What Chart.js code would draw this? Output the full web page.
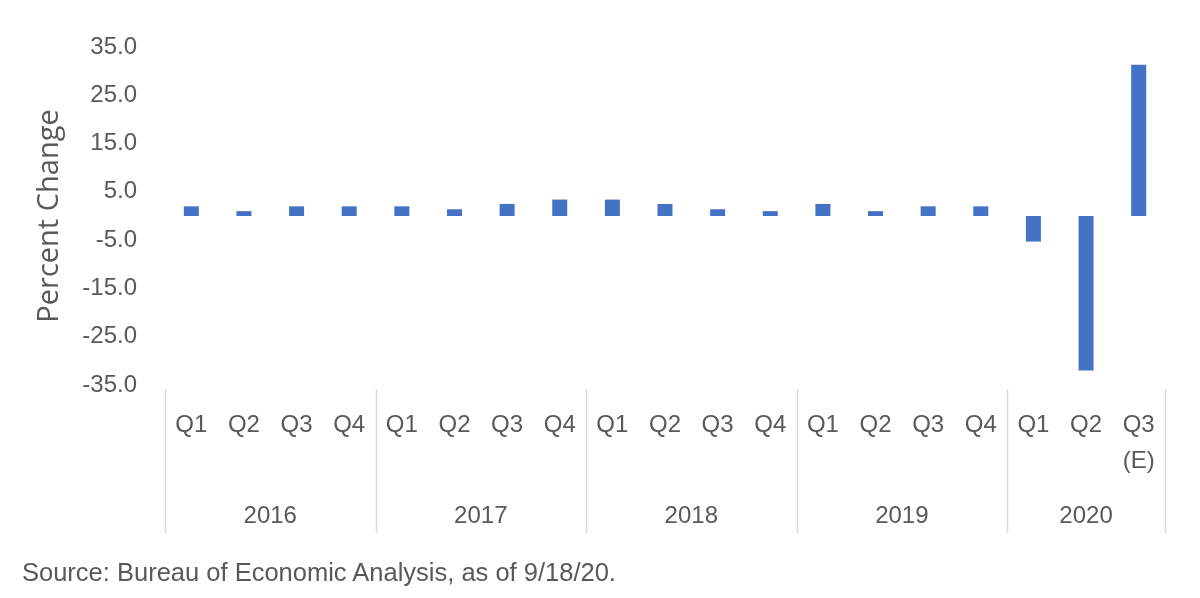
<!DOCTYPE html>
<html>
<head>
<meta charset="utf-8">
<script src="https://cdn.jsdelivr.net/npm/chart.js@4/dist/chart.umd.min.js"></script>
<style>
  html, body { margin: 0; padding: 0; background: #fff; }
  #wrap { position: relative; width: 1200px; height: 598px; }
  #source {
    position: absolute; left: 22px; top: 560px;
    font-family: "Liberation Sans", Arial, sans-serif;
    font-size: 25.5px; line-height: 1; color: #595959;
    white-space: nowrap;
  }
</style>
</head>
<body>
<div id="wrap">
  <canvas id="myChart" width="1200" height="598"></canvas>
  <div id="source">Source: Bureau of Economic Analysis, as of 9/18/20.</div>
</div>
<script>
var quarters = ['Q1', 'Q2', 'Q3', 'Q4', 'Q1', 'Q2', 'Q3', 'Q4', 'Q1', 'Q2', 'Q3', 'Q4',
                'Q1', 'Q2', 'Q3', 'Q4', 'Q1', 'Q2', ['Q3', '(E)']];
var gdpChange = [2.0, 1.0, 2.0, 2.0, 2.0, 1.4, 2.5, 3.4, 3.4, 2.5, 1.4, 1.0,
                 2.5, 1.0, 2.0, 2.0, -5.3, -32.0, 31.3];
var years = ['2016', '2017', '2018', '2019', '2020'];
var quartersPerYear = [4, 4, 4, 4, 3];
var yTicks = [-35, -25, -15, -5, 5, 15, 25, 35];

// year group centres and boundaries, in bar index units
var yearCentres = [];
var yearBounds = [-0.5];
var start = 0;
quartersPerYear.forEach(function (n) {
    yearCentres.push(start + (n - 1) / 2);
    start += n;
    yearBounds.push(start - 0.5);
});

var font = "'Liberation Sans', Arial, sans-serif";
var grey = '#595959';
var lineGrey = '#d9d9d9';

var dividers = {
    id: 'dividers',
    afterDraw: function (chart) {
        var ctx = chart.ctx;
        var x = chart.scales.x;
        var yr = chart.scales.year;
        ctx.save();
        ctx.strokeStyle = lineGrey;
        ctx.lineWidth = 1.5;
        yearBounds.forEach(function (b) {
            var px = Math.round(x.getPixelForValue(b)) + 0.5;
            ctx.beginPath();
            ctx.moveTo(px, chart.chartArea.bottom + 4);
            ctx.lineTo(px, yr.bottom);
            ctx.stroke();
        });
        ctx.restore();
    }
};

var ctx = document.getElementById('myChart').getContext('2d');

var config = {
    type: 'bar',
    data: {
        labels: quarters,
        datasets: [{
            data: gdpChange,
            backgroundColor: '#4472C4',
            barPercentage: 0.57,
            categoryPercentage: 0.5
        }]
    },
    options: {
        responsive: false,
        animation: false,
        layout: { padding: { top: 47, right: 35, bottom: 65, left: 0 } },
        plugins: { legend: { display: false }, tooltip: { enabled: false } },
        scales: {
            y: {
                min: -35,
                max: 35,
                afterBuildTicks: function (scale) {
                    scale.ticks = yTicks.map(function (v) { return { value: v }; });
                },
                afterFit: function (scale) { scale.width = 165; },
                border: { display: false },
                grid: {
                    drawTicks: false,
                    color: function (c) { return c.tick && c.tick.value === 0 ? lineGrey : 'rgba(0,0,0,0)'; },
                    lineWidth: 2
                },
                ticks: {
                    color: grey,
                    font: { family: font, size: 24 },
                    padding: 28,
                    callback: function (v) { return v.toFixed(1); }
                },
                title: {
                    display: true,
                    text: 'Percent Change',
                    color: grey,
                    font: { family: "'Open Sans', sans-serif", size: 29 },
                    padding: { top: 32, bottom: 0 }
                }
            },
            x: {
                grid: { display: false },
                border: { display: false },
                afterFit: function (scale) { scale.height = 100; },
                ticks: {
                    color: grey,
                    font: { family: font, size: 24, lineHeight: 1.5 },
                    padding: 14,
                    maxRotation: 0,
                    autoSkip: false
                }
            },
            year: {
                type: 'linear',
                position: 'bottom',
                offset: false,
                min: -0.5,
                max: gdpChange.length - 0.5,
                afterBuildTicks: function (scale) {
                    scale.ticks = yearCentres.map(function (v) { return { value: v }; });
                },
                afterFit: function (scale) { scale.height = 48; },
                grid: { display: false },
                border: { display: false },
                ticks: {
                    color: grey,
                    font: { family: font, size: 24 },
                    padding: 9,
                    maxRotation: 0,
                    autoSkip: false,
                    callback: function (v) { return years[yearCentres.indexOf(v)]; }
                }
            }
        }
    },
    plugins: [dividers]
};

var myChart = new Chart(ctx, config);
</script>
</body>
</html>
